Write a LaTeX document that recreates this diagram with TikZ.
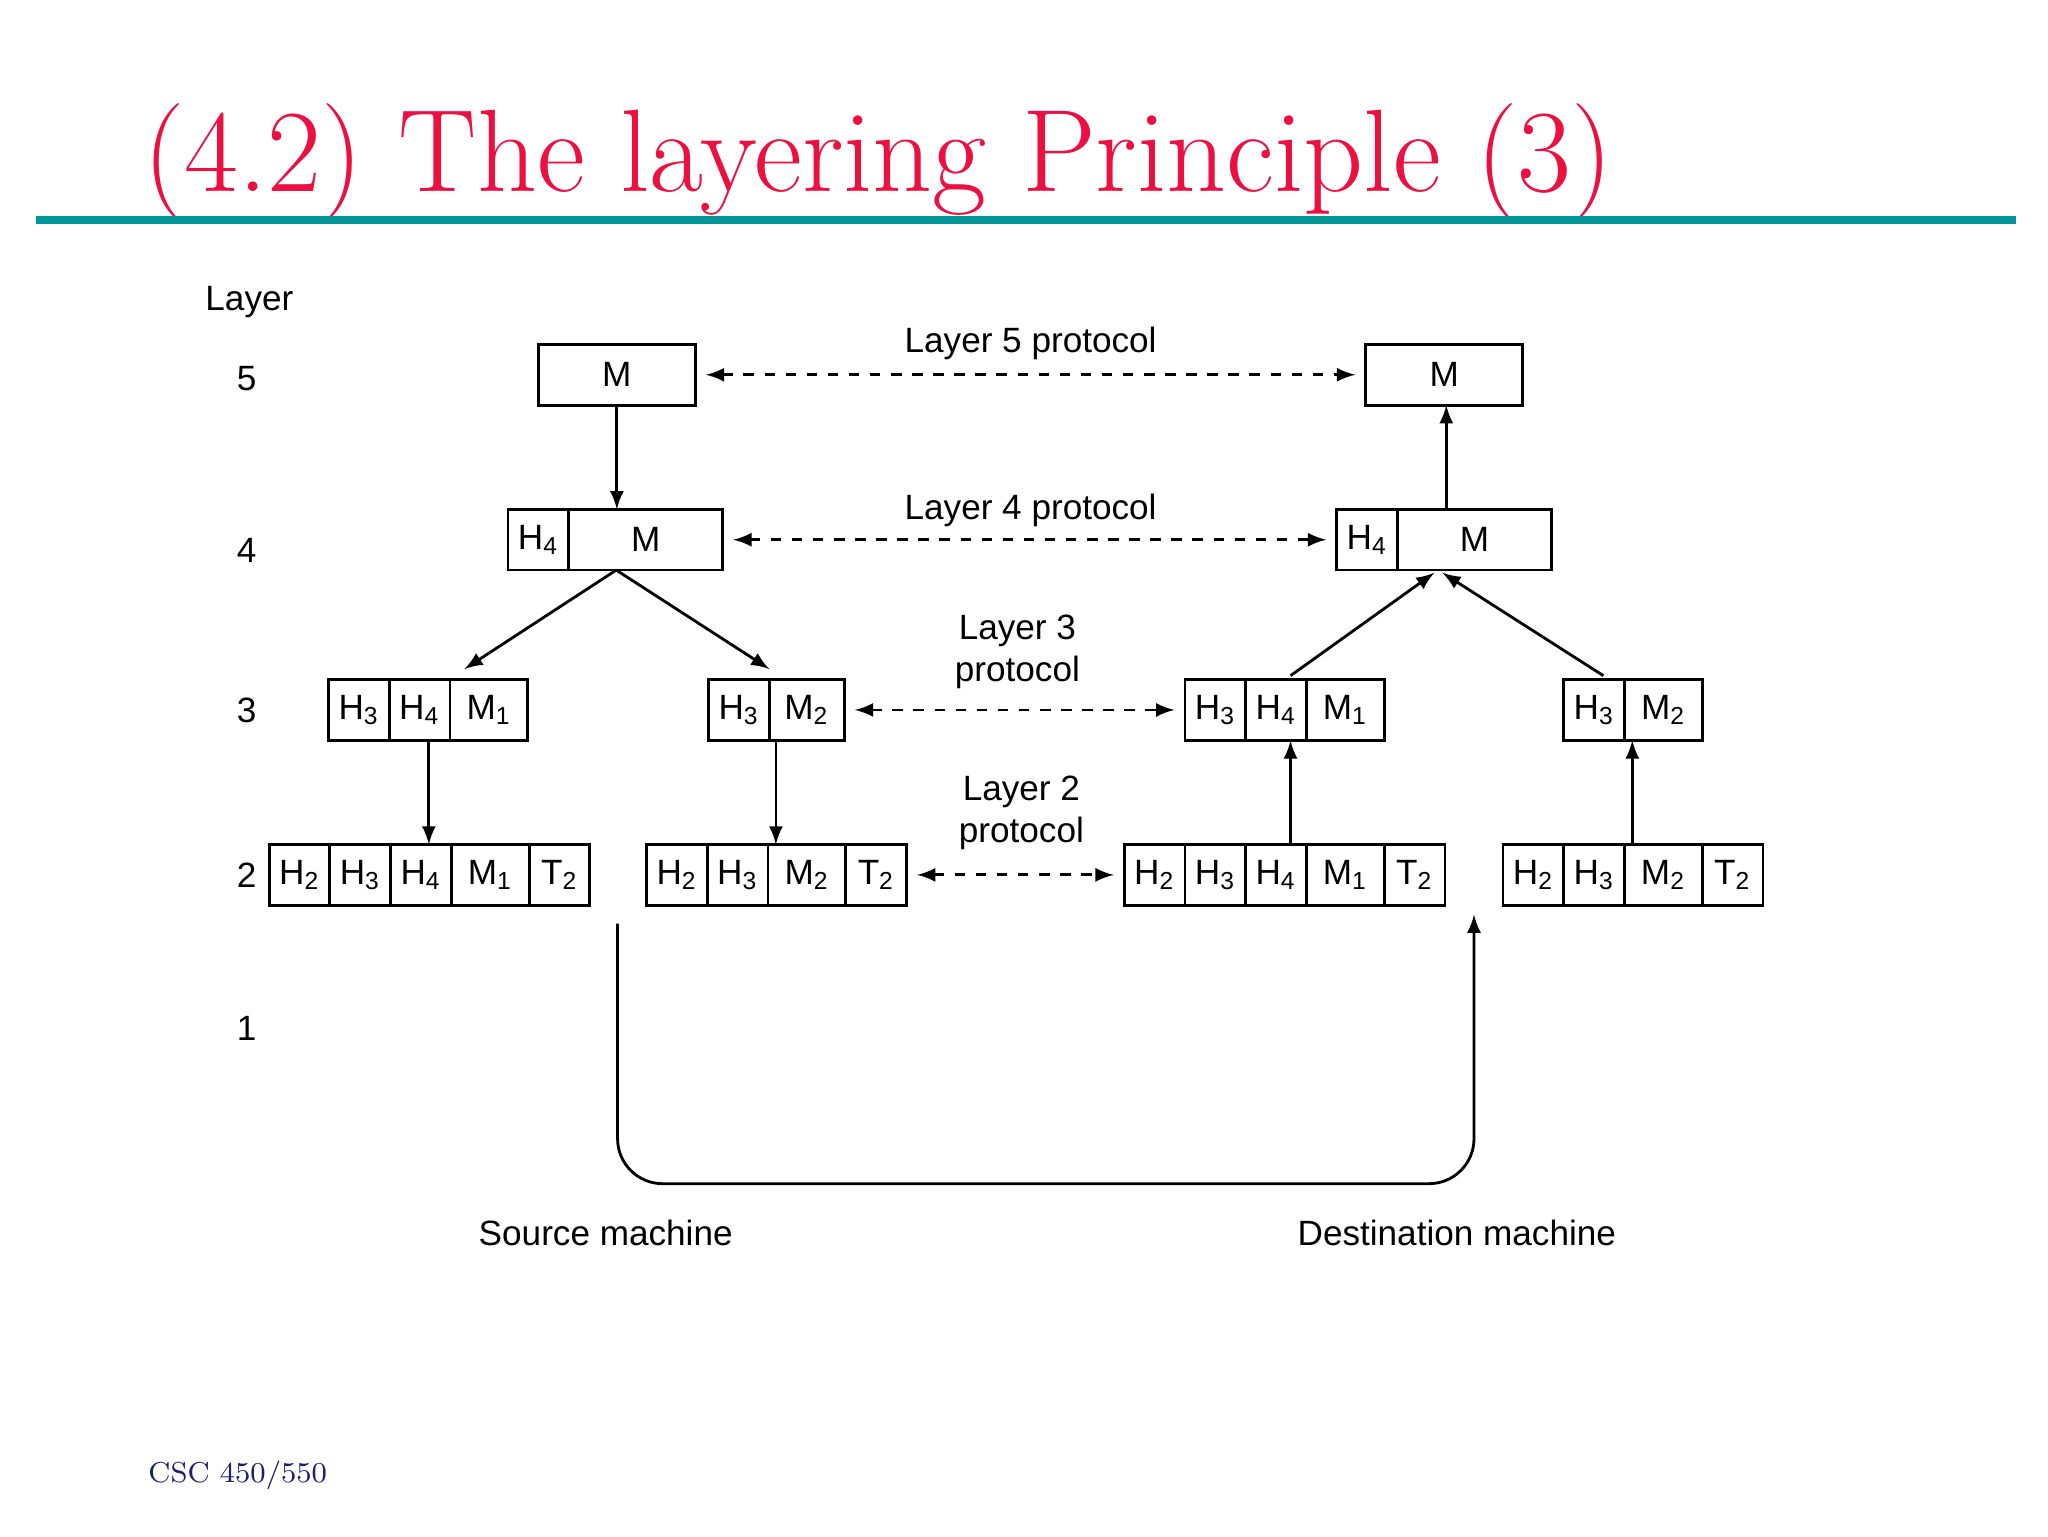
\documentclass[tikz,border=0pt]{standalone}
\usepackage{fontspec}
\setsansfont{Liberation Sans}
\usetikzlibrary{arrows,positioning}
\definecolor{titlered}{RGB}{236,16,64}
\definecolor{ruleteal}{RGB}{0,150,150}
\definecolor{navy}{RGB}{30,30,110}
\newcommand{\sub}[2]{#1\textsubscript{#2}}
\tikzset{
  cell/.style = {draw=black, thick, inner sep=0pt, outer sep=0pt, anchor=west,
    minimum height=0.607cm, minimum width=0.607cm, font=\sffamily\fontsize{10}{12}\selectfont},% one field
  wide/.style = {cell, minimum width=0.779cm},% M1, M2
  lbl/.style = {font=\sffamily\fontsize{10}{12}\selectfont, align=center},
  peer/.style = {<->, >=latex, dashed, thick},
  down/.style = {->, >=latex, thick}
}
\begin{document}
\begin{tikzpicture}[x=0.013196cm, y=-0.013196cm]
        \useasboundingbox (0,0) rectangle (1552,1164);
        \node[anchor=base west, text=titlered, font=\fontsize{33.4}{40}\selectfont, inner sep=0pt] (title) at (108,145) {(4.2) The layering Principle (3)};
        \fill[ruleteal] (27,164) rectangle (1528,170);
        \node[anchor=west, text=navy, font=\fontsize{8.2}{10}\selectfont, inner sep=0pt] (foot) at (112,1118) {CSC 450/550};
        % layer numbers
        \node[lbl] (lay) at (189,229) {Layer};
        \foreach \n/\y in {5/287,4/417,3/538,2/663,1/779}
          \node[lbl] (l\n) at (187,\y) {\n};
        % layer 5
        \node[cell, minimum width=1.57cm] (sM) at (408,284) {M};
        \node[cell, minimum width=1.57cm] (dM) at (1035,284) {M};
        % layer 4
        \node[cell] (s4h) at (385,409) {\sub{H}{4}};
        \node[cell, minimum width=1.54cm, right=0pt of s4h] (s4m) {M};
        \node[cell] (d4h) at (1013,409) {\sub{H}{4}};
        \node[cell, minimum width=1.54cm, right=0pt of d4h] (d4m) {M};
        % layer 3
        \node[cell] (s3a) at (249,538) {\sub{H}{3}};
        \node[cell, right=0pt of s3a] (s3b) {\sub{H}{4}};
        \node[wide, right=0pt of s3b] (s3c) {\sub{M}{1}};
        \node[cell] (s3d) at (537,538) {\sub{H}{3}};
        \node[wide, minimum width=0.75cm, right=0pt of s3d] (s3e) {\sub{M}{2}};
        \node[cell] (d3a) at (898,538) {\sub{H}{3}};
        \node[cell, right=0pt of d3a] (d3b) {\sub{H}{4}};
        \node[wide, right=0pt of d3b] (d3c) {\sub{M}{1}};
        \node[cell] (d3d) at (1185,538) {\sub{H}{3}};
        \node[wide, right=0pt of d3d] (d3e) {\sub{M}{2}};
        % layer 2
        \node[cell] (s2a) at (204,663) {\sub{H}{2}};
        \node[cell, right=0pt of s2a] (s2b) {\sub{H}{3}};
        \node[cell, right=0pt of s2b] (s2c) {\sub{H}{4}};
        \node[wide, right=0pt of s2c] (s2d) {\sub{M}{1}};
        \node[cell, right=0pt of s2d] (s2e) {\sub{T}{2}};
        \node[cell] (s2f) at (490,663) {\sub{H}{2}};
        \node[cell, right=0pt of s2f] (s2g) {\sub{H}{3}};
        \node[wide, right=0pt of s2g] (s2h) {\sub{M}{2}};
        \node[cell, right=0pt of s2h] (s2i) {\sub{T}{2}};
        \node[cell] (d2a) at (852,663) {\sub{H}{2}};
        \node[cell, right=0pt of d2a] (d2b) {\sub{H}{3}};
        \node[cell, right=0pt of d2b] (d2c) {\sub{H}{4}};
        \node[wide, right=0pt of d2c] (d2d) {\sub{M}{1}};
        \node[cell, right=0pt of d2d] (d2e) {\sub{T}{2}};
        \node[cell] (d2f) at (1139,663) {\sub{H}{2}};
        \node[cell, right=0pt of d2f] (d2g) {\sub{H}{3}};
        \node[wide, right=0pt of d2g] (d2h) {\sub{M}{2}};
        \node[cell, right=0pt of d2h] (d2i) {\sub{T}{2}};
        % peer protocols
        \draw[peer] ([xshift=3pt]sM.east) -- ([xshift=-3pt]dM.west);
        \draw[peer] ([xshift=3pt]s4m.east) -- ([xshift=-3pt]d4h.west);
        \draw[peer] ([xshift=3pt]s3e.east) -- ([xshift=-3pt]d3a.west);
        \draw[peer] ([xshift=3pt]s2i.east) -- ([xshift=-3pt]d2a.west);
        \node[lbl] (p5) at (781,260) {Layer 5 protocol};
        \node[lbl] (p4) at (781,387) {Layer 4 protocol};
        \node[lbl] (p3) at (771,494) {Layer 3\\protocol};
        \node[lbl] (p2) at (774,616) {Layer 2\\protocol};
        % source side
        \draw[down] (sM.south) -- (sM.south |- s4m.north);
        \coordinate (s4bot) at (467,432);
        \draw[down] (s4bot) -- (352,507);
        \draw[down] (s4bot) -- (583,507);
        \draw[down] (s3b.south east) ++(-16,0) coordinate (s3x) -- (s3x |- s2c.north);
        \draw[down] (s3d.south east) ++(5,0) coordinate (s3y) -- (s3y |- s2g.north);
        % destination side
        \draw[down] (d4m.north west) ++(37,0) coordinate (d4x) -- (d4x |- dM.south);
        \draw[down] (978,512) -- (1087,434);
        \draw[down] (1215,512) -- (1093,434);
        \draw[down] (d2c.north west) ++(34,0) coordinate (d2x) -- (d2x |- d3b.south);
        \draw[down] (d2g.north east) ++(6,0) coordinate (d2y) -- (d2y |- d3e.south);
        % physical medium
        \coordinate (phA) at (468,700);
        \coordinate (phB) at (1117,693);
        \draw[down, rounded corners=0.45cm] (phA) -- (468,897) -- (1117,897) -- (phB);
        \node[lbl] (src) at (459,934) {Source machine};
        \node[lbl] (dst) at (1104,934) {Destination machine};
\end{tikzpicture}
\end{document}
